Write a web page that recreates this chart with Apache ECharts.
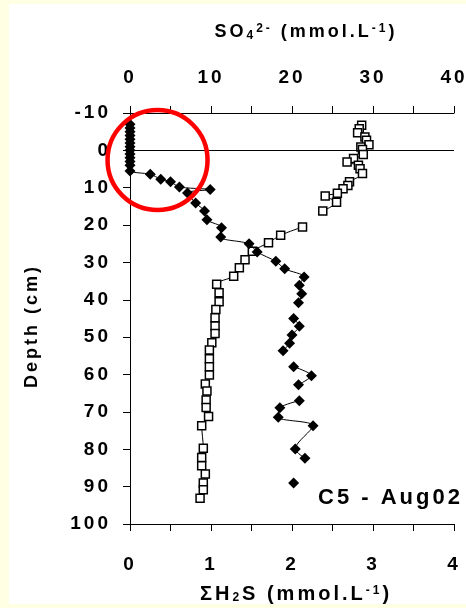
<!DOCTYPE html>
<html>
<head>
<meta charset="utf-8">
<script src="https://cdn.jsdelivr.net/npm/echarts@6/dist/echarts.min.js"></script>
<style>
  html, body { margin: 0; padding: 0; background: #FFFFE4; }
  #chart { width: 466px; height: 608px; }
</style>
</head>
<body>
<div id="chart"></div>
<script>
// Pore-water profiles at station C5 (August 2002): sulfate and total dissolved sulfide vs depth.
// A null entry marks a break in the profile line.

// Sulfate, mmol/L (top axis)
const so4Depth = [-6.7, -5.8, -4.7, -3.6, -2.7, -1.5, -0.9, -0.2, 1.1, 2.2,
  3.1, 4.0, 4.9, 6.2, 8.4, 9.4, 10.3, 11.5, 12.2, 13.9,
  16.2, null, 20.5, 22.7, 24.7, 27.0, 29.3, 31.4, 33.7, 35.8,
  38.1, 40.5, 42.6, 44.8, 47.0, 49.0, 51.5, 53.4,
  55.8, 57.9, 60.1, 62.5, 64.4, 66.8, 68.8, 71.2,
  73.7, 79.7, 82.2, 84.4, 86.6, 89.0, 90.8, 93.1];
const so4Value = [28.6, 28.3, 28.1, 29.0, 29.2, 29.5, 28.5, 28.7, 28.8, 27.6,
  26.8, 28.2, 28.4, 28.7, 27.1, 26.9, 26.3, 25.6, 24.1, 25.5,
  23.8, null, 21.3, 18.6, 17.1, 15.1, 14.2, 13.5, 12.8, 10.7,
  11.0, 11.0, 10.6, 10.5, 10.5, 10.5, 10.1, 9.8,
  9.8, 9.8, 9.8, 9.3, 9.5, 9.4, 9.4, 9.7,
  8.85, 9.05, 8.85, 8.85, 9.3, 9.05, 9.05, 8.65];

// Total dissolved sulfide, mmol/L (bottom axis)
const h2sDepth = [-7, -6, -5, -4, -3, -2, -1, 0, 1, 2, 3, 4, 5.5,
  6.4, 7.7, 8.4, 9.8, 10.5, 11.4, 14.1, 16.2, 18.6, 20.7,
  23.2, 25.0, 27.2, 29.7, 31.7, 33.9, 36.1, 38.4, 40.8,
  null, 45.0, 47.1, 49.4, 51.6, 53.6,
  null, 57.9, 60.3, 62.7,
  null, 67.0, 68.9, 71.4, 73.7, 79.9, 82.4,
  null, 89.0];
const h2sValue = [0, 0, 0, 0, 0, 0, 0, 0, 0, 0, 0, 0, 0,
  0.25, 0.38, 0.50, 0.61, 0.99, 0.71, 0.81, 0.92, 0.95, 1.13,
  1.12, 1.47, 1.57, 1.80, 1.91, 2.15, 2.09, 2.12, 2.08,
  null, 2.02, 2.09, 2.00, 1.97, 1.89,
  null, 2.02, 2.24, 2.08,
  null, 2.09, 1.85, 1.83, 2.26, 2.04, 2.16,
  null, 2.02];

// Axis tick labels
const so4Ticks = [0, 10, 20, 30, 40];
const h2sTicks = [0, 1, 2, 3, 4];
const depthTicks = [-10, 0, 10, 20, 30, 40, 50, 60, 70, 80, 90, 100];

// Highlighted zone: sulfide-free surface layer (centre in sulfide / depth units)
const zoneCentre = [0.34, 2.6];

const FONT = '"Liberation Sans", Arial, sans-serif';
const SPACING = 3; // wide tracking used for all chart text

// Letter-spaced text: measure and draw with the same tracking
const measureCtx = document.createElement('canvas').getContext('2d');
echarts.setPlatformAPI({
  measureText: function (text, font) {
    measureCtx.font = font || '12px sans-serif';
    measureCtx.letterSpacing = SPACING + 'px';
    return measureCtx.measureText(text);
  }
});
const nativeFillText = CanvasRenderingContext2D.prototype.fillText;
CanvasRenderingContext2D.prototype.fillText = function () {
  this.letterSpacing = SPACING + 'px';
  return nativeFillText.apply(this, arguments);
};

function toPoints(depths, values) {
  return depths.map(function (d, i) {
    const v = values[i];
    return (d == null || v == null) ? ['-', '-'] : [v, d];
  });
}

const labelStyle = { color: '#000', fontFamily: FONT, fontWeight: 'bold', fontSize: 19 };
const lineBlack = { color: '#000', width: 1 };

function richText(size) {
  return {
    m: { fontSize: size, fontWeight: 'bold', fontFamily: FONT, fill: '#000', lineHeight: 22, verticalAlign: 'middle' },
    sub: { fontSize: 12, fontWeight: 'bold', fontFamily: FONT, fill: '#000', lineHeight: 12, verticalAlign: 'bottom' },
    sup: { fontSize: 12, fontWeight: 'bold', fontFamily: FONT, fill: '#000', lineHeight: 12, verticalAlign: 'top' }
  };
}

const chart = echarts.init(document.getElementById('chart'), null, { renderer: 'canvas' });

chart.setOption({
  animation: false,
  backgroundColor: 'transparent',
  grid: { left: 130, right: 12, top: 113, bottom: 84, containLabel: false, outerBoundsMode: 'none' },
  xAxis: [
    {
      type: 'value', position: 'top',
      min: so4Ticks[0], max: so4Ticks[so4Ticks.length - 1], interval: 5,
      axisLine: { show: true, onZero: false, lineStyle: lineBlack },
      axisTick: { show: true, inside: false, length: 7, lineStyle: lineBlack },
      splitLine: { show: false },
      axisLabel: Object.assign({
        margin: 24,
        formatter: function (v) { return so4Ticks.indexOf(v) >= 0 ? String(v) : ''; }
      }, labelStyle)
    },
    {
      type: 'value', position: 'bottom',
      min: h2sTicks[0], max: h2sTicks[h2sTicks.length - 1], interval: 0.5,
      axisLine: { show: true, onZero: false, lineStyle: lineBlack },
      axisTick: { show: true, inside: false, length: 7, lineStyle: lineBlack },
      splitLine: { show: false },
      axisLabel: Object.assign({
        margin: 30,
        formatter: function (v) { return h2sTicks.indexOf(v) >= 0 ? String(v) : ''; }
      }, labelStyle)
    }
  ],
  yAxis: {
    type: 'value', inverse: true,
    min: depthTicks[0], max: depthTicks[depthTicks.length - 1], interval: 10,
    axisLine: { show: true, onZero: false, lineStyle: lineBlack },
    axisTick: { show: true, inside: false, length: 7, lineStyle: lineBlack },
    splitLine: { show: false },
    axisLabel: Object.assign({ margin: 19 }, labelStyle)
  },
  series: [
    {
      name: 'SO4', type: 'line', xAxisIndex: 0, yAxisIndex: 0,
      data: toPoints(so4Depth, so4Value),
      smooth: 0.3,
      symbol: 'rect', symbolSize: 8,
      itemStyle: { color: '#fff', borderColor: '#000', borderWidth: 1.5 },
      lineStyle: lineBlack,
      emphasis: { disabled: true },
      z: 2,
      markLine: {
        silent: true, symbol: ['none', 'none'], label: { show: false },
        lineStyle: { color: '#000', width: 1, type: 'solid' },
        data: [{ yAxis: 0 }]
      }
    },
    {
      name: 'H2S', type: 'line', xAxisIndex: 1, yAxisIndex: 0,
      data: toPoints(h2sDepth, h2sValue),
      smooth: 0.3,
      symbol: 'diamond', symbolSize: 11,
      itemStyle: { color: '#000' },
      lineStyle: lineBlack,
      emphasis: { disabled: true },
      z: 3
    }
  ],
  graphic: [
    { type: 'rect', id: 'panel', z: -10, silent: true,
      shape: { x: 9, y: 4, width: 457, height: 600 }, style: { fill: '#fff' } },
    { type: 'text', id: 'so4Title', x: 306, y: 32, silent: true,
      style: { text: '{m|SO}{sub|4}{sup|2-}{m| (mmol.L}{sup|-1}{m|)}', align: 'center', verticalAlign: 'middle', rich: richText(18) } },
    { type: 'text', id: 'h2sTitle', x: 296, y: 594, silent: true,
      style: { text: '{m|ΣH}{sub|2}{m|S (mmol.L}{sup|-1}{m|)}', align: 'center', verticalAlign: 'middle', rich: richText(20) } },
    { type: 'text', id: 'depthTitle', x: 32, y: 326, rotation: Math.PI / 2, silent: true,
      style: { text: 'Depth (cm)', fill: '#000', fontFamily: FONT, fontWeight: 'bold', fontSize: 18, align: 'center', verticalAlign: 'middle' } },
    { type: 'text', id: 'station', x: 318, y: 498, silent: true,
      style: { text: 'C5 - Aug02', fill: '#000', fontFamily: FONT, fontWeight: 'bold', fontSize: 22, align: 'left', verticalAlign: 'middle' } }
  ]
});

// Red ring around the sulfide-free surface layer, placed in data space
const ringAt = chart.convertToPixel({ seriesIndex: 1 }, zoneCentre);
chart.setOption({
  graphic: [{
    type: 'circle', id: 'zoneRing', silent: true, z: 10,
    shape: { cx: ringAt[0], cy: ringAt[1], r: 50 },
    style: { fill: 'none', stroke: '#FF0000', lineWidth: 4.5 }
  }]
});
</script>
</body>
</html>
